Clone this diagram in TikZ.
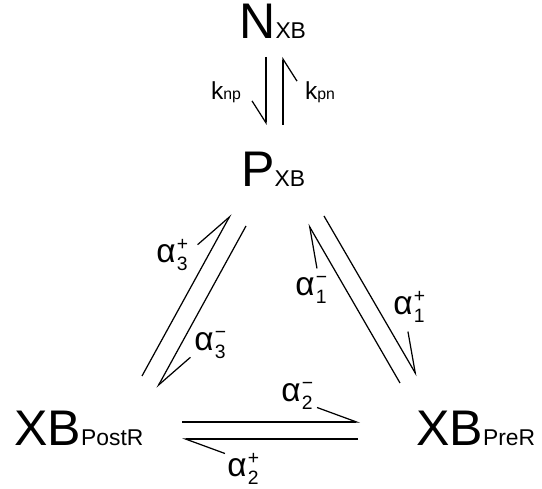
\documentclass[tikz,border=0pt]{standalone}
\usepackage{fontspec}
\setmainfont{Liberation Sans}
\usetikzlibrary{arrows.meta}

% font sizes
\newcommand{\bigsz}{\fontsize{28.5}{31}\selectfont}
\newcommand{\subsz}{\fontsize{13}{15}\selectfont}
\newcommand{\ksz}{\fontsize{14}{16}\selectfont}
\newcommand{\ksub}{\fontsize{9}{10}\selectfont}
\newcommand{\asz}{\fontsize{19}{21}\selectfont}
\newcommand{\ascr}{\fontsize{11}{13}\selectfont}
% rate constant with stacked scripts
\newcommand{\rate}[2]{α\kern0.8pt\rlap{\raisebox{7pt}{\ascr #1}}\raisebox{-4.8pt}{\ascr #2}}

\begin{document}
\begin{tikzpicture}[
    x=0.02cm, y=-0.02cm,
    state/.style={inner sep=0pt, font=\bigsz, anchor=base west},
    lbl/.style={inner sep=0pt, font=\asz},
    klbl/.style={inner sep=0pt, font=\ksz},
    fwd/.style={line width=0.7pt, -{Straight Barb[harpoon, length=0.79cm, width=0.58cm]}},
    fwdk/.style={line width=0.7pt, -{Straight Barb[harpoon, swap, length=0.44cm, width=0.56cm]}}
]

% White background, fixes the size
\useasboundingbox [fill=white] (0,0) rectangle (542,489);

% ==================== STATES ====================
\node[state] (N) at (239,39) {N{\subsz XB}};
\node[state] (P) at (241,187) {P{\subsz XB}};
\node[state] (post) at (14,446) {XB{\subsz PostR}};
\node[state] (pre) at (416,446) {XB{\subsz PreR}};

% ==================== N <-> P ====================
\coordinate (knp_s) at (266,57);
\coordinate (knp_e) at (266,125);
\coordinate (kpn_s) at (283,125);
\coordinate (kpn_e) at (283,57);
\draw[fwdk] (knp_s) -- (knp_e);
\draw[fwdk] (kpn_s) -- (kpn_e);
\node[klbl] (knp) at (226,92) {k{\ksub np}};
\node[klbl] (kpn) at (320,92) {k{\ksub pn}};

% ==================== P <-> PostR ====================
\coordinate (a3p_s) at (142,376);
\coordinate (a3p_e) at (231,214);
\coordinate (a3m_s) at (246,226);
\coordinate (a3m_e) at (157,388);
\draw[fwd] (a3p_s) -- (a3p_e);
\draw[fwd] (a3m_s) -- (a3m_e);
\node[lbl] (a3p) at (172,255) {\rate{+}{3}};
\node[lbl] (a3m) at (210,345) {\rate{−}{3}};

% ==================== P <-> PreR ====================
\coordinate (a1m_s) at (400,383);
\coordinate (a1m_e) at (308,224);
\coordinate (a1p_s) at (324,216);
\coordinate (a1p_e) at (417,376);
\draw[fwd] (a1m_s) -- (a1m_e);
\draw[fwd] (a1p_s) -- (a1p_e);
\node[lbl] (a1m) at (311,290) {\rate{−}{1}};
\node[lbl] (a1p) at (409,307) {\rate{+}{1}};

% ==================== PostR <-> PreR ====================
\coordinate (a2m_s) at (182,422);
\coordinate (a2m_e) at (360,422);
\coordinate (a2p_s) at (358,439);
\coordinate (a2p_e) at (182,439);
\draw[fwd] (a2m_s) -- (a2m_e);
\draw[fwd] (a2p_s) -- (a2p_e);
\node[lbl] (a2m) at (297,396) {\rate{−}{2}};
\node[lbl] (a2p) at (243,469) {\rate{+}{2}};

\end{tikzpicture}
\end{document}
